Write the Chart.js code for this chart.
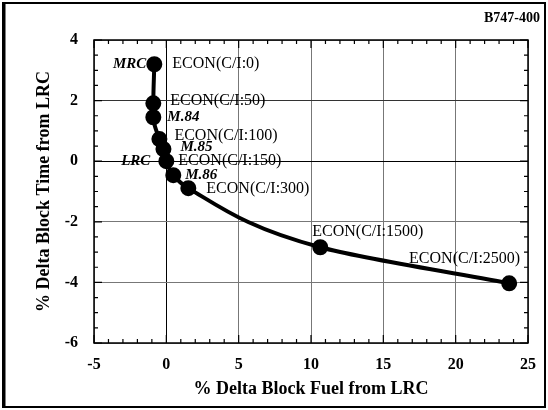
<!DOCTYPE html>
<html>
<head>
<meta charset="utf-8">
<script src="https://cdn.jsdelivr.net/npm/chart.js@4.4.1/dist/chart.umd.min.js"></script>
<style>
  html, body { margin: 0; padding: 0; background: #fff; }
  #wrap { width: 548px; height: 410px; }
</style>
</head>
<body>
<div id="wrap"><canvas id="chart" width="548" height="410"></canvas></div>
<script>
// values (% vs LRC)
const fuelDelta = [-0.83, -0.9, -0.9, -0.48, -0.2, 0, 0.48, 1.52, 10.64, 23.7];
const timeDelta = [3.2, 1.91, 1.45, 0.73, 0.4, 0, -0.46, -0.89, -2.84, -4.03];
const pointNames = ['ECON(C/I:0)', 'ECON(C/I:50)', 'M.84', 'ECON(C/I:100)', 'M.85',
                    'ECON(C/I:150)', 'M.86', 'ECON(C/I:300)', 'ECON(C/I:1500)', 'ECON(C/I:2500)'];
const sideNames = ['MRC', '', '', '', '', 'LRC', '', '', '', ''];
const xTicks = [-5, 0, 5, 10, 15, 20, 25];
const yTicks = [-6, -4, -2, 0, 2, 4];
const aircraft = 'B747-400';

const serif = "'Liberation Serif', 'DejaVu Serif', serif";

// label placement (pixels from the marker)
const labelOffsets = [
    [18, 0, 'left'], [17, -3, 'left'], [14, 0, 'left'], [15, -3, 'left'], [17, -2, 'left'],
    [12, 0, 'left'], [12, 0, 'left'], [18, 1, 'left'], [-8, -15, 'left'], [11, -25, 'right']
];
const sideOffsets = [[-8, 0], null, null, null, null, [-16, 0]];

const pointLabelPlugin = {
    id: 'pointLabels',
    afterDatasetsDraw(chart) {
        const ctx = chart.ctx;
        const meta = chart.getDatasetMeta(0);
        ctx.save();
        ctx.fillStyle = '#000';
        ctx.textBaseline = 'middle';
        meta.data.forEach((pt, i) => {
            const name = pointNames[i];
            const off = labelOffsets[i];
            const isMach = name.startsWith('M.');
            ctx.font = isMach ? `italic bold 15px ${serif}` : `16px ${serif}`;
            ctx.textAlign = off[2];
            ctx.fillText(name, pt.x + off[0], pt.y + off[1]);
            if (sideNames[i]) {
                const so = sideOffsets[i];
                ctx.font = `italic bold 15px ${serif}`;
                ctx.textAlign = 'right';
                ctx.fillText(sideNames[i], pt.x + so[0], pt.y + so[1]);
            }
        });
        ctx.restore();
    }
};

const framePlugin = {
    id: 'frame',
    afterDraw(chart) {
        const ctx = chart.ctx;
        const a = chart.chartArea;
        const xs = chart.scales.x, ys = chart.scales.y;
        ctx.save();
        ctx.strokeStyle = '#000';
        // minor + major inner ticks on all four sides
        ctx.lineWidth = 1.2;
        ctx.beginPath();
        for (let v = -5; v <= 25; v += 1) {
            const px = xs.getPixelForValue(v);
            const len = v % 5 === 0 ? 8 : 4;
            ctx.moveTo(px, a.bottom); ctx.lineTo(px, a.bottom - len);
            ctx.moveTo(px, a.top); ctx.lineTo(px, a.top + len);
        }
        for (let v = -6; v <= 4; v += 0.5) {
            const py = ys.getPixelForValue(v);
            const len = v % 2 === 0 ? 8 : 4;
            ctx.moveTo(a.left, py); ctx.lineTo(a.left + len, py);
            ctx.moveTo(a.right, py); ctx.lineTo(a.right - len, py);
        }
        ctx.stroke();
        // plot box
        ctx.lineWidth = 1.5;
        ctx.strokeRect(a.left, a.top, a.right - a.left, a.bottom - a.top);
        // outer frame
        ctx.lineWidth = 2;
        ctx.strokeRect(3, 3, 542, 404);
        ctx.lineWidth = 3;
        ctx.beginPath(); ctx.moveTo(4, 2); ctx.lineTo(4, 408); ctx.stroke();
        // aircraft tag
        ctx.fillStyle = '#000';
        ctx.font = `bold 14px ${serif}`;
        ctx.textAlign = 'right';
        ctx.textBaseline = 'middle';
        ctx.fillText(aircraft, 540, 18);
        ctx.restore();
    }
};

const gridColor = (ctx) => {
    if (!ctx.tick) return '#777';
    if (ctx.tick.value === 0) return '#000';
    if (ctx.scale.axis === 'y' && ctx.tick.value === 2) return '#333';
    return '#777';
};
const gridDash = (ctx) => {
    if (!ctx.tick) return [1, 2];
    if (ctx.tick.value === 0) return [];
    if (ctx.scale.axis === 'y' && ctx.tick.value === 2) return [3, 2];
    return [1, 2];
};

new Chart(document.getElementById('chart'), {
    type: 'scatter',
    data: {
        datasets: [{
            data: fuelDelta.map((x, i) => ({ x: x, y: timeDelta[i] })),
            showLine: true,
            borderColor: '#000',
            borderWidth: 4,
            backgroundColor: '#000',
            pointRadius: 6,
            pointHoverRadius: 6,
            cubicInterpolationMode: 'monotone'
        }]
    },
    options: {
        indexAxis: 'y',
        responsive: false,
        animation: false,
        layout: { padding: { left: 0, right: 20, top: 40, bottom: 0 } },
        plugins: { legend: { display: false }, tooltip: { enabled: false } },
        scales: {
            x: {
                type: 'linear',
                min: xTicks[0],
                max: xTicks[xTicks.length - 1],
                afterBuildTicks: (s) => { s.ticks = xTicks.map(v => ({ value: v })); },
                afterFit: (s) => { s.height = 67; },
                grid: { color: gridColor, borderDash: gridDash, drawTicks: false, lineWidth: 1 },
                border: { display: false },
                ticks: { color: '#000', padding: 12, font: { family: serif, size: 16, weight: 'bold' } },
                title: {
                    display: true,
                    text: '% Delta Block Fuel from LRC',
                    color: '#000',
                    font: { family: serif, size: 18, weight: 'bold' },
                    padding: { top: 0, bottom: 10 }
                }
            },
            y: {
                type: 'linear',
                min: yTicks[0],
                max: yTicks[yTicks.length - 1],
                afterBuildTicks: (s) => { s.ticks = yTicks.map(v => ({ value: v })); },
                afterFit: (s) => { s.width = 94; },
                grid: { color: gridColor, borderDash: gridDash, drawTicks: false, lineWidth: 1 },
                border: { display: false },
                ticks: { color: '#000', padding: 16, font: { family: serif, size: 16, weight: 'bold' } },
                title: {
                    display: true,
                    text: '% Delta Block Time from LRC',
                    color: '#000',
                    font: { family: serif, size: 18, weight: 'bold' },
                    padding: { top: 34, bottom: 0 }
                }
            }
        }
    },
    plugins: [pointLabelPlugin, framePlugin]
});
</script>
</body>
</html>
